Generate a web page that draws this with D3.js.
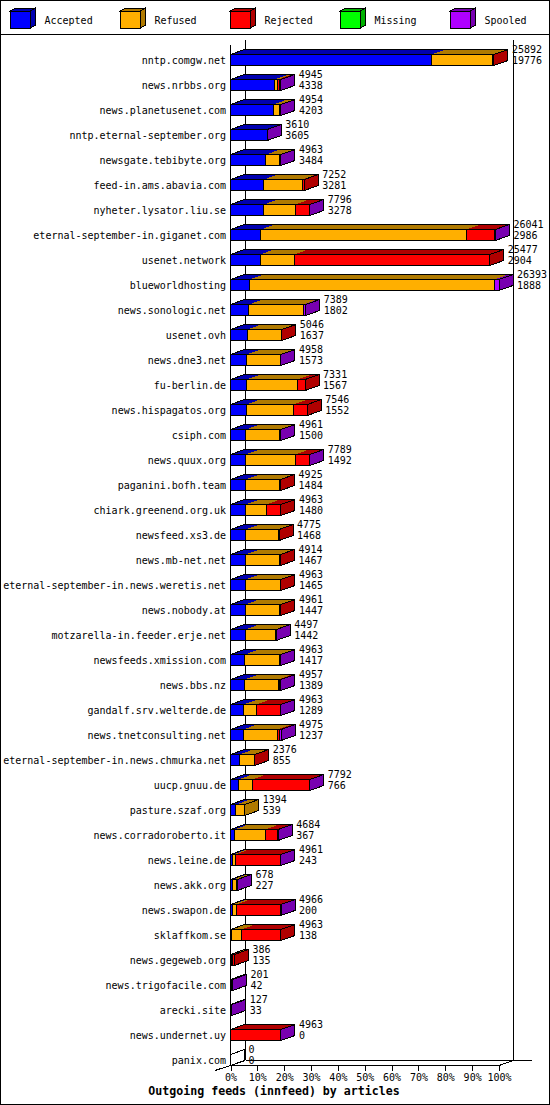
<!DOCTYPE html>
<html>
<head>
<meta charset="utf-8">
<script src="https://cdn.jsdelivr.net/npm/d3@7"></script>
<style>
  body { margin: 0; background: #fff; }
  svg text { font-family: "DejaVu Sans Mono", monospace; font-size: 10px; fill: #000; }
</style>
</head>
<body>
<div id="chart"></div>
<script>
// data
const sites = ["nntp.comgw.net", "news.nrbbs.org", "news.planetusenet.com", "nntp.eternal-september.org",
  "newsgate.tebibyte.org", "feed-in.ams.abavia.com", "nyheter.lysator.liu.se", "eternal-september-in.giganet.com",
  "usenet.network", "blueworldhosting", "news.sonologic.net", "usenet.ovh", "news.dne3.net", "fu-berlin.de",
  "news.hispagatos.org", "csiph.com", "news.quux.org", "paganini.bofh.team", "chiark.greenend.org.uk",
  "newsfeed.xs3.de", "news.mb-net.net", "eternal-september-in.news.weretis.net", "news.nobody.at",
  "motzarella-in.feeder.erje.net", "newsfeeds.xmission.com", "news.bbs.nz", "gandalf.srv.welterde.de",
  "news.tnetconsulting.net", "eternal-september-in.news.chmurka.net", "uucp.gnuu.de", "pasture.szaf.org",
  "news.corradoroberto.it", "news.leine.de", "news.akk.org", "news.swapon.de", "sklaffkom.se",
  "news.gegeweb.org", "news.trigofacile.com", "arecki.site", "news.undernet.uy", "panix.com"];

const offered = [25892, 4945, 4954, 3610, 4963, 7252, 7796, 26041, 25477, 26393, 7389, 5046, 4958, 7331,
  7546, 4961, 7789, 4925, 4963, 4775, 4914, 4963, 4961, 4497, 4963, 4957, 4963, 4975, 2376, 7792, 1394,
  4684, 4961, 678, 4966, 4963, 386, 201, 127, 4963, 0];

const accepted = [19776, 4338, 4203, 3605, 3484, 3281, 3278, 2986, 2904, 1888, 1802, 1637, 1573, 1567,
  1552, 1500, 1492, 1484, 1480, 1468, 1467, 1465, 1447, 1442, 1417, 1389, 1289, 1237, 855, 766, 539,
  367, 243, 227, 200, 138, 135, 42, 33, 0, 0];

const refused = [6010, 310, 600, 0, 1370, 3760, 3085, 20204, 3361, 24043, 5350, 3381, 3347, 5026,
  4647, 3322, 4871, 3370, 2030, 3222, 3322, 3422, 3375, 2953, 3405, 3301, 1237, 3388, 1474, 1366, 855,
  3044, 216, 363, 358, 912, 60, 100, 0, 0, 0];

const rejected = [106, 150, 0, 0, 0, 211, 1378, 2755, 19212, 0, 0, 28, 0, 738,
  1347, 0, 1378, 71, 1453, 85, 125, 76, 139, 0, 0, 164, 2394, 229, 47, 5609, 0,
  1181, 4461, 0, 4362, 3913, 191, 0, 0, 4920, 0];

const missing = [0, 0, 0, 0, 0, 0, 0, 0, 0, 0, 0, 0, 0, 0,
  0, 0, 0, 0, 0, 0, 0, 0, 0, 0, 0, 0, 0, 0, 0, 0, 0,
  0, 0, 0, 0, 0, 0, 0, 0, 0, 0];

const spooled = [0, 147, 151, 5, 109, 0, 55, 96, 0, 462, 237, 0, 38, 0,
  0, 139, 48, 0, 0, 0, 0, 0, 0, 102, 141, 103, 43, 121, 0, 51, 0,
  92, 41, 88, 46, 0, 0, 59, 94, 43, 0];

const keys = ["Accepted", "Refused", "Rejected", "Missing", "Spooled"];
const tickLabels = ["0%", "10%", "20%", "30%", "40%", "50%", "60%", "70%", "80%", "90%", "100%"];
const title = "Outgoing feeds (innfeed) by articles";

const front = {Accepted: "#0000ff", Refused: "#ffaf00", Rejected: "#ff0000", Missing: "#00ff00", Spooled: "#af00ff"};
const dark  = {Accepted: "#0000b0", Refused: "#b07a00", Rejected: "#b00000", Missing: "#00b000", Spooled: "#7800b0"};

const W = 550, H = 1105;
const dx = 14, dy = 5;       // depth of the 3d bars
const barH = 11;

const svg = d3.select("#chart").append("svg")
  .attr("width", W).attr("height", H)
  .attr("shape-rendering", "crispEdges");

// frame and legend box
svg.append("rect").attr("x", 0.5).attr("y", 0.5).attr("width", W - 1).attr("height", H - 1.5)
  .attr("fill", "#fff").attr("stroke", "#000");
svg.append("line").attr("x1", 0).attr("x2", W).attr("y1", 34.5).attr("y2", 34.5).attr("stroke", "#000");

const legend = svg.append("g").selectAll("g").data(keys).enter().append("g")
  .attr("transform", (d, i) => `translate(${10.5 + i * 110},0)`);
legend.append("polygon")
  .attr("points", "0,11 5,8 25,8 20,11")
  .attr("fill", d => dark[d]).attr("stroke", "#000");
legend.append("polygon")
  .attr("points", "20,11 25,8 25,25 20,28")
  .attr("fill", d => dark[d]).attr("stroke", "#000");
legend.append("rect").attr("x", 0).attr("y", 11).attr("width", 20).attr("height", 17)
  .attr("fill", d => front[d]).attr("stroke", "#000");
legend.append("text").attr("x", 34).attr("y", 24).text(d => d);

// scales
const x = d3.scaleLinear().domain([0, d3.max(offered)]).range([230.5, 499]);
const pct = d3.scaleLinear().domain([0, 100]).range([230.5, 499]);
const y = d3.scaleBand().domain(sites).range([40, 1065]);

// walls / floor
const walls = svg.append("g").attr("stroke", "#000");
walls.append("line").attr("x1", 230.5).attr("x2", 230.5).attr("y1", 45).attr("y2", 1065);
walls.append("line").attr("x1", 230.5 + 15).attr("x2", 230.5 + 15).attr("y1", 40).attr("y2", 1060);
walls.append("line").attr("x1", 513.5).attr("x2", 513.5).attr("y1", 40).attr("y2", 1060);
walls.append("line").attr("x1", 245.5).attr("x2", 532).attr("y1", 1060.5).attr("y2", 1060.5);
walls.append("line").attr("x1", 215).attr("x2", 245.5).attr("y1", 1070.5).attr("y2", 1060.5);
walls.append("line").attr("x1", 499).attr("x2", 513.5).attr("y1", 1065.5).attr("y2", 1060.5);
walls.append("line").attr("x1", 230.5).attr("x2", 499).attr("y1", 1065.5).attr("y2", 1065.5);

// x axis
const axis = svg.append("g").attr("transform", "translate(0,1065.5)")
  .call(d3.axisBottom(pct).tickValues(d3.range(0, 101, 10)).tickSize(5)
    .tickFormat((d, i) => tickLabels[i]));
axis.select(".domain").remove();
axis.selectAll("line").attr("stroke", "#000");
axis.selectAll("text").attr("font-family", null).attr("font-size", null).attr("fill", "#000");

// stacked values
const rows = sites.map((s, i) => ({site: s, Accepted: accepted[i], Refused: refused[i],
  Rejected: rejected[i], Missing: missing[i], Spooled: spooled[i], offered: offered[i], acc: accepted[i]}));
const series = d3.stack().keys(keys)(rows);

const bars = svg.append("g");
rows.forEach((r, i) => {
  const top = y(r.site) + 14.5, bot = top + barH;
  const g = bars.append("g");
  const segs = series.map(s => ({key: s.key, x0: x(s[i][0]), x1: x(s[i][1]), v: s[i][1] - s[i][0]}))
    .filter(d => d.v > 0);
  if (segs.length === 0) {
    g.append("polygon")
      .attr("points", [[x(0), top], [x(0) + dx, top - dy], [x(0) + dx, bot - dy], [x(0), bot]].join(" "))
      .attr("fill", "none").attr("stroke", "#000");
  } else {
    const last = segs[segs.length - 1];
    // top faces
    segs.forEach(d => {
      g.append("polygon")
        .attr("points", [[d.x0, top], [d.x0 + dx, top - dy], [d.x1 + dx, top - dy], [d.x1, top]].join(" "))
        .attr("fill", dark[d.key]).attr("stroke", "none");
    });
    g.append("polygon")
      .attr("points", [[segs[0].x0, top], [segs[0].x0 + dx, top - dy], [last.x1 + dx, top - dy], [last.x1, top]].join(" "))
      .attr("fill", "none").attr("stroke", "#000");
    // side face
    g.append("polygon")
      .attr("points", [[last.x1, top], [last.x1 + dx, top - dy], [last.x1 + dx, bot - dy], [last.x1, bot]].join(" "))
      .attr("fill", dark[last.key]).attr("stroke", "#000");
    // fronts
    segs.forEach(d => {
      g.append("rect").attr("x", d.x0).attr("y", top).attr("width", d.x1 - d.x0).attr("height", barH)
        .attr("fill", front[d.key]).attr("stroke", "#000");
    });
  }
  const tx = x(r.offered) + dx + 4;
  g.append("text").attr("x", tx).attr("y", top - 1.5).text(r.offered);
  g.append("text").attr("x", tx).attr("y", top + 9.5).text(r.acc);
});

// site names
svg.append("g").selectAll("text").data(sites).enter().append("text")
  .attr("x", 226).attr("y", d => y(d) + 24)
  .attr("text-anchor", "end")
  .text(d => d);

svg.append("text").attr("x", 274).attr("y", 1095)
  .attr("text-anchor", "middle")
  .style("font-weight", "bold").style("font-size", "11.6px")
  .text(title);
</script>
</body>
</html>
